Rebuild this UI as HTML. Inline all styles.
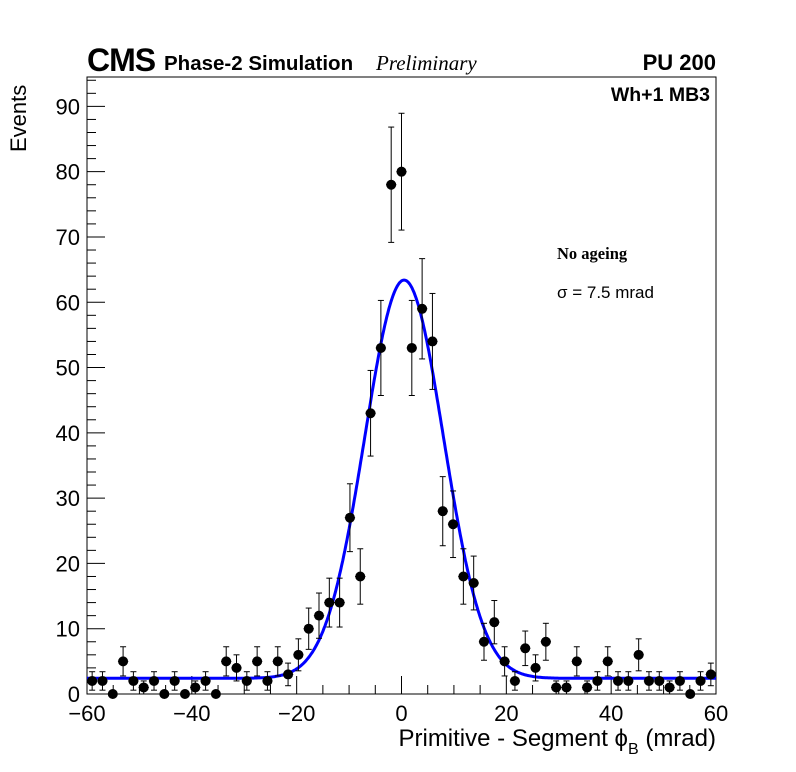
<!DOCTYPE html>
<html><head><meta charset="utf-8"><style>
body{margin:0;background:#fff;width:796px;height:772px;overflow:hidden}
svg{display:block;font-family:"Liberation Sans",sans-serif}
</style></head><body>
<svg id="chart" width="796" height="772" xmlns="http://www.w3.org/2000/svg">
<rect width="796" height="772" fill="#fff"/>
<g id="axes"></g>
<g id="fit"></g>
<g id="pts"></g>
<text x="87" y="71" font-size="32" font-weight="bold" letter-spacing="-1">CMS</text>
<text x="164" y="70" font-size="20.5" font-weight="bold">Phase-2 Simulation</text>
<text x="376" y="70" font-size="21" font-style="italic" font-family="Liberation Serif,serif">Preliminary</text>
<text x="716" y="70" font-size="22" font-weight="bold" text-anchor="end">PU 200</text>
<text x="710" y="101" font-size="19.5" font-weight="bold" text-anchor="end">Wh+1 MB3</text>
<text x="557" y="259" font-size="16.5" font-weight="bold" font-family="Liberation Serif,serif">No ageing</text>
<text x="557" y="298" font-size="17">σ = 7.5 mrad</text>
<text transform="translate(26,152) rotate(-90)" font-size="22">Events</text>
<text x="716" y="746" font-size="24" text-anchor="end">Primitive - Segment ϕ<tspan font-size="16" dy="8">B</tspan><tspan dy="-8"> (mrad)</tspan></text>
</svg>
<script>
const counts=[2,2,0,5,2,1,2,0,2,0,1,2,0,5,4,2,5,2,5,3,6,10,12,14,14,27,18,43,53,78,80,53,59,54,28,26,18,17,8,11,5,2,7,4,8,1,1,5,1,2,5,2,2,6,2,2,1,2,0,2,3];
const xTicks=[-60,-40,-20,0,20,40,60];
const yTicks=[0,10,20,30,40,50,60,70,80,90];
const fitConst=[2.4], fitAmp=[61], fitMean=[0.5], fitSigma=[7.5];
const L=87,R=716,T=77,B=694, xmin=-60,xmax=60,ymax=94.5;
const sx=v=>L+(v-xmin)/(xmax-xmin)*(R-L);
const sy=v=>B-v/ymax*(B-T);
const NS="http://www.w3.org/2000/svg";
function mk(p,tag,at){const e=document.createElementNS(NS,tag);for(const k in at)e.setAttribute(k,at[k]);p.appendChild(e);return e;}
const ax=document.getElementById('axes');
const fr=mk(ax,'rect',{x:L,y:T,width:R-L,height:B-T,fill:'none',stroke:'#000','stroke-width':1});


for(let v=xmin;v<=xmax;v+=5){const maj=v%20===0;const t=mk(ax,'line',{x1:sx(v),x2:sx(v),y1:B,y2:B-(maj?18:9),stroke:'#000'});

}
for(let v=0;v<=ymax;v+=2){const maj=v%10===0;const t=mk(ax,'line',{x1:L,x2:L+(maj?18:9),y1:sy(v),y2:sy(v),stroke:'#000'});

}
xTicks.forEach(v=>{const t=mk(ax,'text',{x:sx(v),y:721,'font-size':22,'text-anchor':'middle'});t.textContent=(v<0?'\u2212'+(-v):v);

});
yTicks.forEach(v=>{const t=mk(ax,'text',{x:80,y:sy(v)+8,'font-size':22,'text-anchor':'end'});t.textContent=v;

});
let d='';for(let i=0;i<=600;i++){const x=xmin+i*(xmax-xmin)/600;const y=fitConst[0]+fitAmp[0]*Math.exp(-0.5*((x-fitMean[0])/fitSigma[0])**2);d+=(i?'L':'M')+sx(x).toFixed(1)+','+sy(y).toFixed(1);}
const fp=mk(document.getElementById('fit'),'path',{d:d,fill:'none',stroke:'#0000ff','stroke-width':3});


const pg=document.getElementById('pts');const w=(xmax-xmin)/counts.length;
counts.forEach((c,i)=>{const xc=xmin+(i+0.5)*w;const g=mk(pg,'g',{});


const e=Math.sqrt(c);
if(c>0){mk(g,'line',{x1:sx(xc),x2:sx(xc),y1:sy(c-e),y2:sy(c+e),stroke:'#000'});
mk(g,'line',{x1:sx(xc)-3,x2:sx(xc)+3,y1:sy(c+e),y2:sy(c+e),stroke:'#000'});
mk(g,'line',{x1:sx(xc)-3,x2:sx(xc)+3,y1:sy(c-e),y2:sy(c-e),stroke:'#000'});}
mk(g,'line',{x1:sx(xc-w/2),x2:sx(xc+w/2),y1:sy(c),y2:sy(c),stroke:'#000'});
mk(g,'circle',{cx:sx(xc),cy:sy(c),r:5,fill:'#000'});});
</script>
</body></html>
